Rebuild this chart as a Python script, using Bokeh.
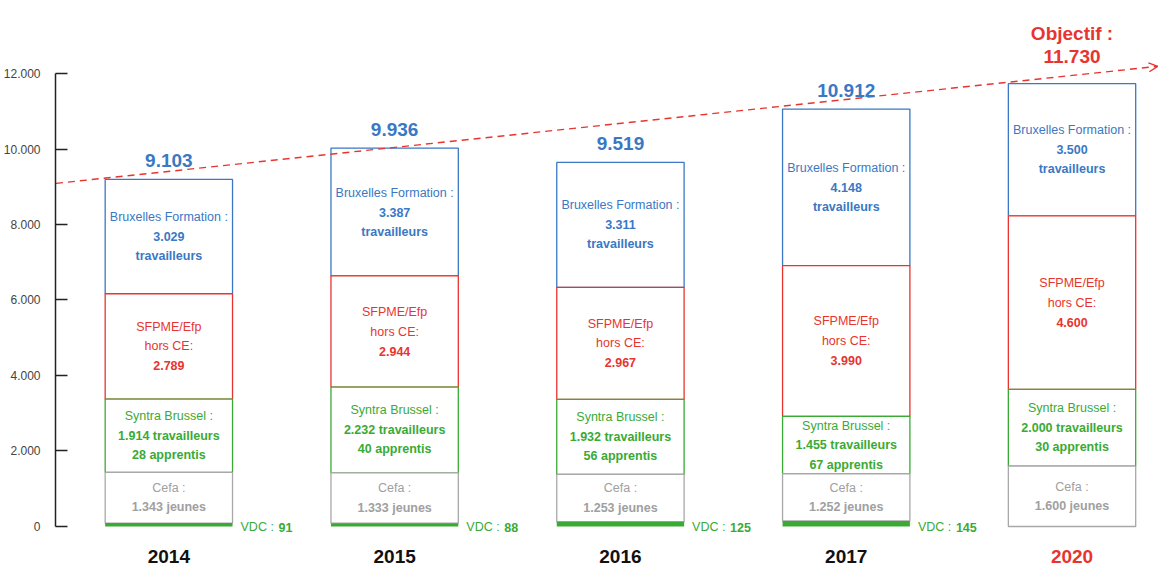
from bokeh.plotting import figure
from bokeh.models import ColumnDataSource, Range1d, FixedTicker, Arrow, OpenHead
from bokeh.core.properties import value
from bokeh.embed import file_html
from bokeh.resources import INLINE

years = ["2014", "2015", "2016", "2017", "2020"]
vdc = [91, 88, 125, 145, 0]
cefa = [1343, 1333, 1253, 1252, 1600]
syntra_trav = [1914, 2232, 1932, 1455, 2000]
syntra_appr = [28, 40, 56, 67, 30]
sfpme = [2789, 2944, 2967, 3990, 4600]
bxl_form = [3029, 3387, 3311, 4148, 3500]
totals = [9103, 9936, 9519, 10912, 11730]
y_ticks = [0, 2000, 4000, 6000, 8000, 10000, 12000]
trend_x = [-0.5, 4.38]
trend_y = [9090, 12190]

BLUE = "#3a78c4"
RED = "#e8342f"
GREEN = "#3aaa35"
GREY = "#a8a8a8"
FNAME = "Liberation Sans"
FONT = value(FNAME)


def fmt(v):
    return f"{v:,}".replace(",", ".")


xs = list(range(len(years)))
t_vdc = list(vdc)
t_cefa = [a + b for a, b in zip(t_vdc, cefa)]
t_syn = [a + b + c for a, b, c in zip(t_cefa, syntra_trav, syntra_appr)]
t_sf = [a + b for a, b in zip(t_syn, sfpme)]
t_bf = [a + b for a, b in zip(t_sf, bxl_form)]

p = figure(width=1158, height=566, output_backend="svg", toolbar_location=None,
           x_range=Range1d(-0.502, 4.383), y_range=Range1d(-1060, 13934),
           x_axis_location=None, min_border_left=49, min_border_right=0,
           min_border_top=0, min_border_bottom=0, outline_line_color=None)
p.grid.visible = False

ax = p.yaxis[0]
ax.ticker = FixedTicker(ticks=y_ticks)
ax.major_label_overrides = {t: fmt(t) for t in y_ticks}
ax.bounds = (0, 12000)
ax.axis_line_color = "#222222"
ax.axis_line_width = 1.5
ax.major_tick_line_color = "#222222"
ax.major_tick_line_width = 1.5
ax.major_tick_in = 12
ax.major_tick_out = 0
ax.minor_tick_in = 0
ax.minor_tick_out = 0
ax.major_label_standoff = 15
ax.major_label_text_font = FNAME
ax.major_label_text_font_size = "12px"
ax.major_label_text_color = "#444444"

W = 0.564
# segments drawn top-down so lower borders overlay upper ones
p.vbar(x=xs, width=W, bottom=t_sf, top=t_bf, fill_color="white", line_color=BLUE, line_width=1.3)
p.vbar(x=xs, width=W, bottom=t_syn, top=t_sf, fill_color="white", line_color=RED, line_width=1.3)
p.vbar(x=xs, width=W, bottom=t_cefa, top=t_syn, fill_color="white", line_color=GREEN, line_width=1.3)
p.vbar(x=xs, width=W, bottom=t_vdc, top=t_cefa, fill_color="white", line_color=GREY, line_width=1.3)
p.vbar(x=xs, width=W, bottom=0, top=t_vdc, fill_color=GREEN, line_color=None)

# trend line
p.line(trend_x, trend_y, line_color=RED, line_width=1.4, line_dash="7 5")
p.add_layout(Arrow(end=OpenHead(size=9, line_color=RED, line_width=1.4), line_color=None,
                   x_start=trend_x[0] + (trend_x[1] - trend_x[0]) * 0.98,
                   y_start=trend_y[0] + (trend_y[1] - trend_y[0]) * 0.98,
                   x_end=trend_x[1], y_end=trend_y[1]))

# labels inside segments
lx, ly, lo, lt, lc, ls = [], [], [], [], [], []
SP = 19.5


def add_lines(i, bottom, top, lines, color):
    n = len(lines)
    for k, (txt, style) in enumerate(lines):
        lx.append(i)
        ly.append((bottom + top) / 2)
        lo.append((k - (n - 1) / 2) * SP)
        lt.append(txt)
        lc.append(color)
        ls.append(style)


for i in xs:
    add_lines(i, t_sf[i], t_bf[i], [("Bruxelles Formation :", "normal"), (fmt(bxl_form[i]), "bold"),
                                    ("travailleurs", "bold")], BLUE)
    add_lines(i, t_syn[i], t_sf[i], [("SFPME/Efp", "normal"), ("hors CE:", "normal"),
                                     (fmt(sfpme[i]), "bold")], RED)
    add_lines(i, t_cefa[i], t_syn[i], [("Syntra Brussel :", "normal"),
                                       (fmt(syntra_trav[i]) + " travailleurs", "bold"),
                                       (f"{syntra_appr[i]} apprentis", "bold")], GREEN)
    add_lines(i, t_vdc[i], t_cefa[i], [("Cefa :", "normal"), (fmt(cefa[i]) + " jeunes", "bold")], "#a0a0a0")

src = ColumnDataSource(dict(x=lx, y=ly, yo=lo, text=lt, color=lc, style=ls))
p.text(x="x", y="y", y_offset="yo", text="text", text_color="color", text_font_style="style",
       source=src, text_font=FONT, text_font_size="12.5px", text_align="center", text_baseline="middle")

# totals
p.text(x=xs[:4], y=t_bf[:4], text=[fmt(t) for t in totals[:4]], y_offset=-19,
       text_color=BLUE, text_font=FONT, text_font_style="bold", text_font_size="19px",
       text_align="center", text_baseline="alphabetic")
p.text(x=[xs[4]], y=[t_bf[4]], text=[fmt(totals[4])], y_offset=-27,
       text_color=RED, text_font=FONT, text_font_style="bold", text_font_size="19px",
       text_align="center", text_baseline="alphabetic")
p.text(x=[xs[4]], y=[t_bf[4]], text=["Objectif :"], y_offset=-50,
       text_color=RED, text_font=FONT, text_font_style="bold", text_font_size="19px",
       text_align="center", text_baseline="alphabetic")

# VDC labels
vx = [i + W / 2 for i in xs if vdc[i] > 0]
vv = [vdc[i] for i in xs if vdc[i] > 0]
p.text(x=vx, y=[0] * len(vx), text=["VDC :"] * len(vx), x_offset=8, y_offset=1,
       text_color=GREEN, text_font=FONT, text_font_size="12.5px", text_align="left",
       text_baseline="alphabetic")
p.text(x=vx, y=[0] * len(vx), text=[str(v) for v in vv], x_offset=46, y_offset=1,
       text_color=GREEN, text_font=FONT, text_font_style="bold", text_font_size="12.5px",
       text_align="left", text_baseline="alphabetic")

# year labels
p.text(x=xs, y=[0] * len(xs), text=years, y_offset=30,
       text_color=["#111111"] * 4 + [RED], text_font=FONT, text_font_style="bold",
       text_font_size="19px", text_align="center", text_baseline="middle")

open("out.html", "w").write(file_html(p, INLINE))
